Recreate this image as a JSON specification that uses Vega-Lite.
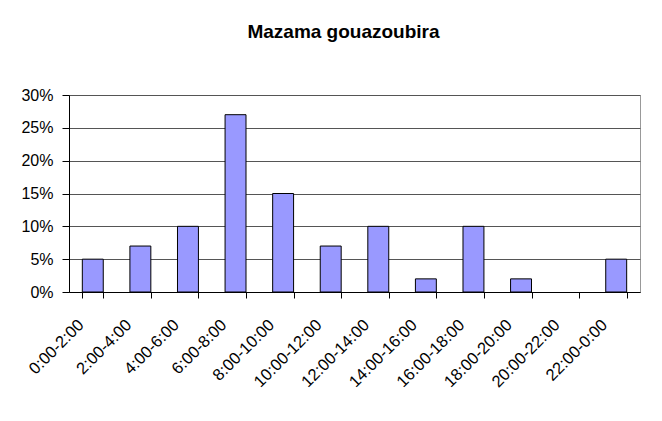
{
  "$schema": "https://vega.github.io/schema/vega-lite/v6.json",
  "autosize": "none",
  "width": 571,
  "height": 197,
  "padding": {"left": 69, "top": 95, "right": 22, "bottom": 129},
  "background": "white",
  "title": {
    "text": "Mazama gouazoubira",
    "font": "Liberation Sans",
    "fontSize": 19,
    "fontWeight": "bold",
    "color": "black",
    "anchor": "middle",
    "dx": -11,
    "baseline": "alphabetic",
    "offset": 30
  },
  "data": {
    "values": [
      {"period": "0:00-2:00", "share": 0.05},
      {"period": "2:00-4:00", "share": 0.07},
      {"period": "4:00-6:00", "share": 0.10},
      {"period": "6:00-8:00", "share": 0.27},
      {"period": "8:00-10:00", "share": 0.15},
      {"period": "10:00-12:00", "share": 0.07},
      {"period": "12:00-14:00", "share": 0.10},
      {"period": "14:00-16:00", "share": 0.02},
      {"period": "16:00-18:00", "share": 0.10},
      {"period": "18:00-20:00", "share": 0.02},
      {"period": "20:00-22:00", "share": 0.0},
      {"period": "22:00-0:00", "share": 0.05}
    ]
  },
  "mark": {"type": "bar", "fill": "#9999FF", "stroke": "black", "strokeWidth": 1},
  "encoding": {
    "x": {
      "field": "period",
      "type": "nominal",
      "sort": null,
      "scale": {"paddingInner": 0.56, "paddingOuter": 0.28},
      "axis": {
        "title": null,
        "tickBand": "extent",
        "labelAngle": -45,
        "labelAlign": "right",
        "labelBaseline": "middle",
        "labelOffset": -12,
        "labelPadding": 24,
        "labelFont": "Liberation Sans",
        "labelFontSize": 16.5,
        "labelColor": "black",
        "domainColor": "black",
        "tickColor": "black",
        "tickSize": 6,
        "grid": false
      }
    },
    "y": {
      "field": "share",
      "type": "quantitative",
      "scale": {"domain": [0, 0.3], "nice": false},
      "axis": {
        "title": null,
        "format": ".0%",
        "values": [0, 0.05, 0.1, 0.15, 0.2, 0.25, 0.3],
        "labelFont": "Liberation Sans",
        "labelFontSize": 16,
        "labelColor": "black",
        "labelPadding": 9,
        "tickSize": 7,
        "tickColor": "black",
        "domainColor": "black",
        "gridColor": "#555555",
        "gridOpacity": 1
      }
    },
    "strokeOpacity": {
      "condition": {"test": "datum.share == 0", "value": 0},
      "value": 1
    }
  },
  "config": {
    "view": {"stroke": "#999999", "strokeWidth": 1}
  }
}
